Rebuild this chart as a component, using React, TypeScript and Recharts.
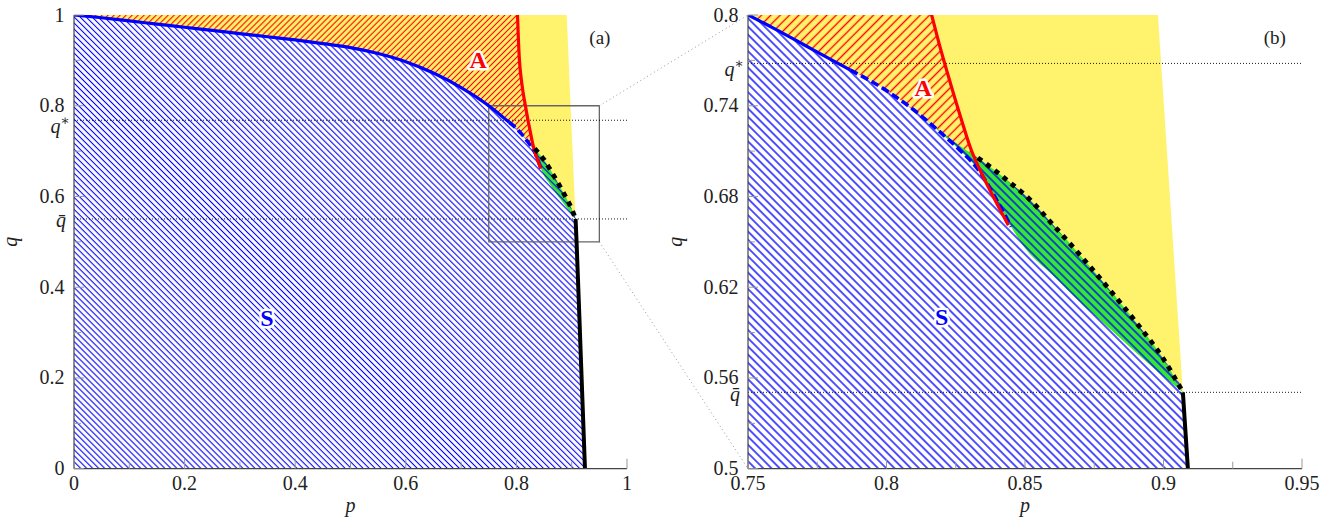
import React from 'react'
import {
  ComposedChart,
  Area,
  Line,
  XAxis,
  YAxis,
  ReferenceLine,
  ReferenceArea,
  ReferenceDot,
} from 'recharts'

// threshold values shown on the q axis
const Q_STAR = 0.768
const Q_BAR = 0.5505

// upper edge of S (blue curve), then lower edge of the green band
const sP = [0, 0.05, 0.1, 0.15, 0.2, 0.25, 0.3, 0.35, 0.4, 0.45, 0.5, 0.55, 0.6, 0.65, 0.7, 0.75, 0.76, 0.77, 0.78, 0.787, 0.8, 0.81, 0.82, 0.826, 0.833, 0.84, 0.845, 0.85, 0.86, 0.87, 0.88, 0.89, 0.9, 0.907]
const sQ = [1, 0.994, 0.987, 0.98, 0.973, 0.966, 0.959, 0.952, 0.945, 0.937, 0.928, 0.915, 0.897, 0.872, 0.84, 0.8, 0.7905, 0.7805, 0.7705, 0.7636, 0.75, 0.737, 0.7215, 0.7115, 0.698, 0.677, 0.66, 0.646, 0.628, 0.61, 0.5935, 0.577, 0.561, 0.5505]

// upper edge of the green band (black dashed from p = 0.833)
const gP = [0.81, 0.82, 0.826, 0.833, 0.84, 0.845, 0.85, 0.86, 0.87, 0.88, 0.89, 0.9, 0.907]
const gQ = [0.737, 0.7225, 0.714, 0.7055, 0.696, 0.6885, 0.681, 0.6615, 0.641, 0.6195, 0.597, 0.5725, 0.5505]

// red boundary of A
const rP = [0.802, 0.8035, 0.8055, 0.8085, 0.812, 0.8163, 0.819, 0.8225, 0.8265, 0.8306, 0.834, 0.8374, 0.844]
const rQ = [1, 0.95, 0.9, 0.862, 0.83, 0.8, 0.781, 0.7585, 0.734, 0.7107, 0.6965, 0.684, 0.661]

// black solid boundary
const kP = [0.907, 0.9088, 0.9164, 0.924]
const kQ = [0.5505, 0.5, 0.25, 0]

// right edge of the yellow region
const yP = [0, 0.891, 0.898, 0.907]
const yQ = [1, 1, 0.8, 0.5505]

const xTicksA = [0, 0.1, 0.2, 0.3, 0.4, 0.5, 0.6, 0.7, 0.8, 0.9, 1]
const xMajorA = [0, 0.2, 0.4, 0.6, 0.8, 1]
const yTicksA = [0, 0.1, 0.2, 0.3, 0.4, 0.5, 0.6, 0.7, 0.8, 0.9, 1]
const yMajorA = [0, 0.2, 0.4, 0.6, 0.8, 1]
const xTicksB = [0.75, 0.775, 0.8, 0.825, 0.85, 0.875, 0.9, 0.925, 0.95]
const xMajorB = [0.75, 0.8, 0.85, 0.9, 0.95]
const yTicksB = [0.5, 0.53, 0.56, 0.59, 0.62, 0.65, 0.68, 0.71, 0.74, 0.77, 0.8]
const yMajorB = [0.5, 0.56, 0.62, 0.68, 0.74, 0.8]

const labelsA = [
  { text: 'A', p: 0.731, q: 0.9, color: '#ff0000' },
  { text: 'S', p: 0.349, q: 0.332, color: '#0000ff' },
]
const labelsB = [
  { text: 'A', p: 0.8132, q: 0.7517, color: '#ff0000' },
  { text: 'S', p: 0.8199, q: 0.6005, color: '#0000ff' },
]

const SERIF = 'Liberation Serif, DejaVu Serif, serif'
const YELLOW = '#fff36e'
const GREEN = '#36e636'
const FRAME = '#444'
const TICK = '#999'
const MAJOR = 10
const MINOR = 7

// layout of the two plot areas (page px)
const A_LEFT = 74
const A_WIDTH = 553
const B_LEFT = 748

const row = (p: number, lo: number, hi: number) => ({ p, v: [lo, hi] })
const pts = (ps: number[], qs: number[]) => ps.map((p, i) => ({ p, q: qs[i] }))
const topAt = (p: number) => {
  const i = gP.indexOf(p)
  return i >= 0 ? gQ[i] : undefined
}

const yellowRows = yP.map((p, i) => row(p, 0, yQ[i]))
const redRows = [row(0, 0, 1), ...rP.map((p, i) => row(p, 0, rQ[i]))]
const kTail = kP.slice(1).map((p, i) => row(p, 0, kQ[i + 1]))
const whiteRows = [...sP.map((p, i) => row(p, 0, sQ[i])), ...kTail]
const greenRows = gP.map((p, i) => row(p, sQ[sP.indexOf(p)], gQ[i]))
const hatchRows = [...sP.map((p, i) => row(p, 0, topAt(p) ?? sQ[i])), ...kTail]

const sLine = pts(sP, sQ)
const blueSolid = sLine.filter((d) => d.p <= 0.787)
const blueDashed = sLine.filter((d) => d.p >= 0.787 && d.p <= 0.845)
const blackDashed = pts(gP, gQ).filter((d) => d.p >= 0.833)
const blackSolid = pts(kP, kQ)
const redLine = pts(rP, rQ)

const isIn = (arr: number[], v: number) => arr.some((m) => Math.abs(m - v) < 1e-9)
const txt = { fontFamily: SERIF, fontSize: 20, fill: '#222' }

function tickText(x: number, y: number, anchor: string, v: number) {
  if (Math.abs(v - Q_STAR) < 1e-9)
    return (
      <text x={x + 4} y={y + 12.5} textAnchor="end" style={txt}>
        <tspan fontStyle="italic">q</tspan>
        <tspan dy={-8} fontSize={14}>∗</tspan>
      </text>
    )
  if (Math.abs(v - Q_BAR) < 1e-9)
    return (
      <text x={x} y={y + 8.5} textAnchor="end" style={{ ...txt, fontStyle: 'italic' }}>
        {'q\u0304'}
      </text>
    )
  return (
    <text x={x} y={y} textAnchor={anchor} style={txt}>
      {String(v)}
    </text>
  )
}

function BottomTick({ x, y, payload, major }: any) {
  const big = isIn(major, payload.value)
  return (
    <g>
      <line x1={x} x2={x} y1={y} y2={y - (big ? MAJOR : MINOR)} stroke={TICK} />
      {big && tickText(x, y + 21.5, 'middle', payload.value)}
    </g>
  )
}

function TopTick({ x, y, payload, major }: any) {
  const big = isIn(major, payload.value)
  return <line x1={x} x2={x} y1={y} y2={y + (big ? MAJOR : MINOR)} stroke={TICK} />
}

function LeftTick({ x, y, payload, major }: any) {
  const v = payload.value
  const special = Math.abs(v - Q_STAR) < 1e-9 || Math.abs(v - Q_BAR) < 1e-9
  if (special) return <g>{tickText(x - 8, y, 'end', v)}</g>
  const big = isIn(major, v)
  return (
    <g>
      <line x1={x} x2={x + (big ? MAJOR : MINOR)} y1={y} y2={y} stroke={TICK} />
      {big && tickText(x - 9.5, y + 6.5, 'end', v)}
    </g>
  )
}

function RightTick({ x, y, payload, major }: any) {
  const big = isIn(major, payload.value)
  return <line x1={x} x2={x - (big ? MAJOR : MINOR)} y1={y} y2={y} stroke={TICK} />
}

function Panel({ cfg }: any) {
  const { id, left, width, margin, xDomain, yDomain, xTicks, xMajor, yTicks, yMajor, hatch, tag, labels, qTitleX, zoom } = cfg
  const [x0, x1] = xDomain
  const [y0, y1] = yDomain
  const connectP = (B_LEFT - A_LEFT) / A_WIDTH
  return (
    <div style={{ position: 'absolute', left, top: 0 }}>
      <ComposedChart width={width} height={519} margin={margin}>
        <defs>
          <pattern id={`blue-${id}`} patternUnits="userSpaceOnUse" width={hatch.blue} height={hatch.blue} patternTransform="rotate(-45)">
            <line x1={hatch.blue / 2} y1={0} x2={hatch.blue / 2} y2={hatch.blue} stroke="#0000ff" strokeWidth={hatch.width} />
          </pattern>
          <pattern id={`red-${id}`} patternUnits="userSpaceOnUse" width={hatch.red} height={hatch.red} patternTransform="rotate(45)">
            <line x1={hatch.red / 2} y1={0} x2={hatch.red / 2} y2={hatch.red} stroke="#ff0000" strokeWidth={hatch.width} />
          </pattern>
        </defs>
        <XAxis
          dataKey="p"
          type="number"
          domain={xDomain}
          allowDataOverflow
          ticks={xTicks}
          interval={0}
          tickSize={0}
          tickMargin={0}
          tickLine={false}
          axisLine={{ stroke: FRAME, strokeWidth: 1.2 }}
          height={50.3}
          zIndex={700}
          tick={(p: any) => <BottomTick {...p} major={xMajor} />}
          label={(p: any) => {
            const vb = p.viewBox || p
            return (
              <text x={vb.x + vb.width / 2} y={512} textAnchor="middle" style={{ ...txt, fontStyle: 'italic' }}>
                p
              </text>
            )
          }}
        />
        <XAxis
          xAxisId="top"
          dataKey="p"
          type="number"
          orientation="top"
          domain={xDomain}
          allowDataOverflow
          ticks={xTicks}
          interval={0}
          tickSize={0}
          tickMargin={0}
          tickLine={false}
          axisLine={{ stroke: FRAME, strokeWidth: 1.2 }}
          height={0}
          zIndex={700}
          tick={(p: any) => <TopTick {...p} major={xMajor} />}
        />
        <YAxis
          type="number"
          domain={yDomain}
          allowDataOverflow
          ticks={[...yTicks, Q_STAR, Q_BAR]}
          interval={0}
          tickSize={0}
          tickMargin={0}
          tickLine={false}
          axisLine={{ stroke: FRAME, strokeWidth: 1.2 }}
          width={60}
          zIndex={700}
          tick={(p: any) => <LeftTick {...p} major={yMajor} />}
          label={(p: any) => {
            const vb = p.viewBox || p
            const cy = vb.y + vb.height / 2
            return (
              <text x={qTitleX} y={cy} transform={`rotate(-90, ${qTitleX}, ${cy})`} textAnchor="middle" style={{ ...txt, fontStyle: 'italic' }}>
                q
              </text>
            )
          }}
        />
        <YAxis
          yAxisId="right"
          type="number"
          orientation="right"
          domain={yDomain}
          allowDataOverflow
          ticks={yTicks}
          interval={0}
          tickSize={0}
          tickMargin={0}
          tickLine={false}
          axisLine={{ stroke: FRAME, strokeWidth: 1.2 }}
          width={0}
          zIndex={700}
          tick={(p: any) => <RightTick {...p} major={yMajor} />}
        />

        <Area data={yellowRows} dataKey="v" type="linear" fill={YELLOW} fillOpacity={1} stroke="none" isAnimationActive={false} />
        <Area data={redRows} dataKey="v" type="monotone" fill={`url(#red-${id})`} fillOpacity={1} stroke="none" isAnimationActive={false} />
        <Area data={whiteRows} dataKey="v" type="monotone" fill="#ffffff" fillOpacity={1} stroke="none" isAnimationActive={false} />
        <Area data={greenRows} dataKey="v" type="monotone" fill={GREEN} fillOpacity={1} stroke="none" isAnimationActive={false} />
        <Area data={hatchRows} dataKey="v" type="monotone" fill={`url(#blue-${id})`} fillOpacity={1} stroke="none" isAnimationActive={false} />

        <ReferenceLine y={Q_STAR} stroke="#000" strokeWidth={0.9} strokeDasharray="1 2" />
        <ReferenceLine y={Q_BAR} stroke="#000" strokeWidth={0.9} strokeDasharray="1 2" />

        <Line data={blueSolid} dataKey="q" type="monotone" stroke="#0000ff" strokeWidth={3.2} dot={false} isAnimationActive={false} />
        <Line data={blueDashed} dataKey="q" type="monotone" stroke="#0000ff" strokeWidth={3.6} strokeDasharray="8 4" dot={false} isAnimationActive={false} />
        <Line data={redLine} dataKey="q" type="monotone" stroke="#ff0000" strokeWidth={3.2} dot={false} isAnimationActive={false} />
        <Line data={blackDashed} dataKey="q" type="monotone" stroke="#000" strokeWidth={4.8} strokeDasharray="5 5.5" dot={false} isAnimationActive={false} />
        <Line data={blackSolid} dataKey="q" type="monotone" stroke="#000" strokeWidth={4} dot={false} isAnimationActive={false} />

        {zoom && (
          <ReferenceArea x1={0.75} x2={0.95} y1={0.5} y2={0.8} fill="none" stroke="#666" strokeWidth={1.3} ifOverflow="visible" />
        )}
        {zoom && (
          <ReferenceLine segment={[{ x: 0.95, y: 0.8 }, { x: connectP, y: 1 }]} ifOverflow="visible" stroke="#999" strokeWidth={1} strokeDasharray="1 3" />
        )}
        {zoom && (
          <ReferenceLine segment={[{ x: 0.95, y: 0.5 }, { x: connectP, y: 0 }]} ifOverflow="visible" stroke="#999" strokeWidth={1} strokeDasharray="1 3" />
        )}

        {labels.map((l: any) => (
          <ReferenceDot
            key={l.text}
            x={l.p}
            y={l.q}
            r={0}
            shape={(s: any) => (
              <text x={s.cx} y={s.cy} textAnchor="middle" dominantBaseline="central" fontWeight="bold" stroke="#fff" strokeWidth={5} strokeLinejoin="round" paintOrder="stroke" style={{ fontFamily: SERIF, fontSize: 24, fill: l.color }}>
                {l.text}
              </text>
            )}
          />
        ))}
        <ReferenceDot
          x={x0 + (x1 - x0) * 0.951}
          y={y0 + (y1 - y0) * 0.951}
          r={0}
          shape={(s: any) => (
            <text x={s.cx} y={s.cy} textAnchor="middle" dominantBaseline="central" style={{ ...txt, fontSize: 19 }}>
              {tag}
            </text>
          )}
        />
      </ComposedChart>
    </div>
  )
}

const panelA = {
  id: 'a',
  left: 0,
  width: 760,
  margin: { top: 15, right: 133, bottom: 0, left: 14 },
  xDomain: [0, 1],
  yDomain: [0, 1],
  xTicks: xTicksA,
  xMajor: xMajorA,
  yTicks: yTicksA,
  yMajor: yMajorA,
  hatch: { blue: 4.25, red: 4.25, width: 1.1 },
  tag: '(a)',
  labels: labelsA,
  qTitleX: 17,
  zoom: true,
}

const panelB = {
  id: 'b',
  left: 660,
  width: 671,
  margin: { top: 15, right: 29, bottom: 0, left: 28 },
  xDomain: [0.75, 0.95],
  yDomain: [0.5, 0.8],
  xTicks: xTicksB,
  xMajor: xMajorB,
  yTicks: yTicksB,
  yMajor: yMajorB,
  hatch: { blue: 5.8, red: 6.6, width: 1.35 },
  tag: '(b)',
  labels: labelsB,
  qTitleX: 22,
  zoom: false,
}

export default function App() {
  return (
    <div style={{ position: 'absolute', left: 0, top: 0, width: 1331, height: 519, background: '#fff' }}>
      <Panel cfg={panelA} />
      <Panel cfg={panelB} />
    </div>
  )
}
